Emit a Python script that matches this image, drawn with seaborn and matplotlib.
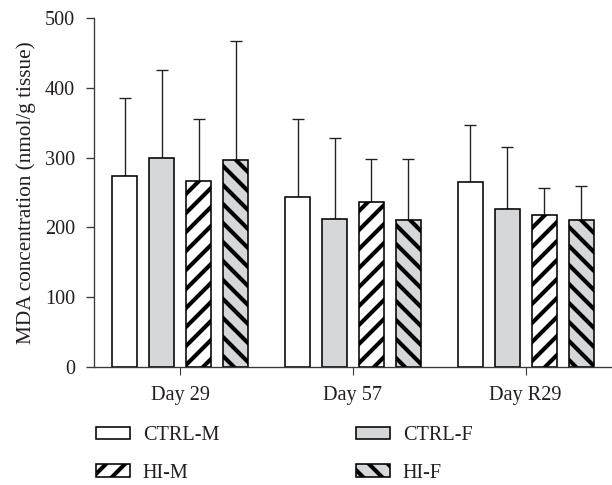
import numpy as np
import pandas as pd
import matplotlib
matplotlib.use("Agg")
import matplotlib.pyplot as plt
from matplotlib.patches import Patch
import seaborn as sns

# ---- data ----
days = ["Day 29", "Day 57", "Day R29"]
groups = ["CTRL-M", "CTRL-F", "HI-M", "HI-F"]
ctrl_m = [274, 244, 265]
ctrl_f = [299, 212, 227]
hi_m = [266, 236, 218]
hi_f = [297, 211, 211]
ctrl_m_sd = [111, 112, 81]
ctrl_f_sd = [126, 116, 88]
hi_m_sd = [89, 62, 39]
hi_f_sd = [170, 87, 48]
y_ticks = [0, 100, 200, 300, 400, 500]
y_label = "MDA concentration (nmol/g tissue)"

means = {"CTRL-M": ctrl_m, "CTRL-F": ctrl_f, "HI-M": hi_m, "HI-F": hi_f}
sds = {"CTRL-M": ctrl_m_sd, "CTRL-F": ctrl_f_sd, "HI-M": hi_m_sd, "HI-F": hi_f_sd}

GREY = "#d6d7d9"
INK = "#231f20"
fills = {"CTRL-M": "white", "CTRL-F": GREY, "HI-M": "white", "HI-F": GREY}
hatches = {"CTRL-M": "", "CTRL-F": "", "HI-M": "//", "HI-F": "\\\\"}

DPI = 114
FS = 12.8

sns.set_style("ticks")
plt.rcParams["font.family"] = ["Liberation Serif", "DejaVu Serif"]
plt.rcParams["hatch.linewidth"] = 2.6
plt.rcParams["hatch.color"] = "black"

rows = []
for g in groups:
    for d, v in zip(days, means[g]):
        rows.append({"day": d, "group": g, "value": v})
df = pd.DataFrame(rows)

fig = plt.figure(figsize=(612 / DPI, 485 / DPI), dpi=DPI)
ax = fig.add_axes([94 / 612, 1 - 367 / 485, 518 / 612, 349 / 485])

sns.barplot(data=df, x="day", y="value", hue="group", order=days,
            hue_order=groups, palette=fills, saturation=1,
            edgecolor="black", linewidth=1.0, width=0.856, gap=0.32,
            errorbar=None, legend=False, ax=ax, zorder=2)

for container, g in zip(ax.containers, groups):
    xs, ys = [], []
    for bar in container:
        bar.set_hatch(hatches[g])
        bar.set_edgecolor("black")
        xs.append(bar.get_x() + bar.get_width() / 2)
        ys.append(bar.get_height())
    ax.errorbar(xs, ys, yerr=[np.zeros(len(xs)), sds[g]], fmt="none",
                ecolor=INK, elinewidth=0.85, capsize=3.8, capthick=0.85,
                zorder=1)

ax.set_ylim(0, 500)
ax.set_yticks(y_ticks)
ax.set_xlim(-0.5, 2.5)
sns.despine(ax=ax)
for s in ["left", "bottom"]:
    ax.spines[s].set_color("#3a3a3a")
    ax.spines[s].set_linewidth(0.85)
ax.set_xlabel("")
ax.set_ylabel(y_label, fontsize=13.4, color=INK)
ax.yaxis.set_label_coords(-0.112, 0.5)
ax.tick_params(axis="y", length=5, width=0.85, pad=7, labelsize=FS,
               colors="#3a3a3a", labelcolor=INK, direction="out")
ax.tick_params(axis="x", length=5, width=0.7, pad=6.8, labelsize=FS,
               colors="#3a3a3a", labelcolor=INK, direction="out")

handles = {
    g: Patch(facecolor=fills[g], edgecolor="black", hatch=hatches[g],
             linewidth=1.0, label=g)
    for g in groups
}
fig.legend(handles=[handles["CTRL-M"], handles["HI-M"], handles["CTRL-F"], handles["HI-F"]],
           ncol=2, loc="upper left", bbox_to_anchor=(96 / 612, 1 - 426 / 485),
           frameon=False, borderpad=0, borderaxespad=0, fontsize=FS,
           handlelength=1.67, handleheight=0.55, handletextpad=0.64,
           columnspacing=6.75, labelspacing=0.92, labelcolor=INK)

fig.savefig("out.png", dpi=DPI)
